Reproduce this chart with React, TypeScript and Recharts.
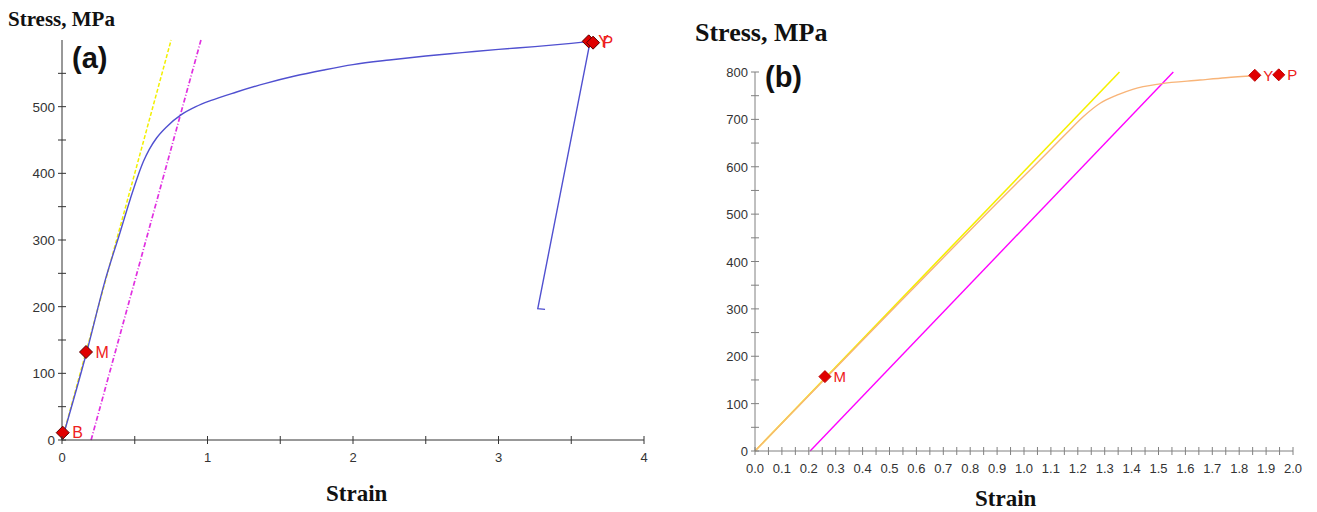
import React from 'react';
import { ComposedChart, Line, Scatter, XAxis, YAxis, LabelList } from 'recharts';

// ---------- Panel (a) ----------
const curveStrainA = [0, 0.17, 0.3, 0.4, 0.47, 0.52, 0.56, 0.6, 0.65, 0.72, 0.82, 0.92, 1.02, 1.2, 1.4, 1.6, 1.8, 2.0, 2.25, 2.5, 2.75, 3.0, 3.25, 3.5, 3.63];
const curveStressA = [0, 132, 242, 312, 362, 395, 418, 436, 453, 470, 488, 500, 509, 522, 535, 546, 555, 563, 570, 576, 581, 586, 590, 595, 598];
const unloadStrainA = [3.63, 3.27, 3.32];
const unloadStressA = [598, 197, 196];
const elasticStrainA = [0, 0.75];
const elasticStressA = [0, 600];
const offsetStrainA = [0.2, 0.955];
const offsetStressA = [0, 600];
const markerLabelsA = ['B', 'M', 'Y', 'P'];
const markerStrainA = [0.005, 0.165, 3.62, 3.65];
const markerStressA = [11, 132, 598, 596];
const yTicksA = [0, 50, 100, 150, 200, 250, 300, 350, 400, 450, 500, 550];
const xTicksA = [0, 0.5, 1, 1.5, 2, 2.5, 3, 3.5, 4];

// ---------- Panel (b) ----------
const curveStrainB = [0, 0.4, 0.6, 0.8, 0.911, 1.035, 1.159, 1.221, 1.283, 1.345, 1.407, 1.506, 1.654, 1.75, 1.858];
const curveStressB = [0, 234, 350, 466, 530, 600, 671, 706, 734, 751, 764, 775, 783, 788, 792];
const elasticStrainB = [0, 1.355];
const elasticStressB = [0, 800];
const offsetStrainB = [0.205, 1.555];
const offsetStressB = [0, 800];
const markerLabelsB = ['M', 'Y', 'P'];
const markerStrainB = [0.26, 1.858, 1.947];
const markerStressB = [157, 793, 794];
const yTicksB = [0, 50, 100, 150, 200, 250, 300, 350, 400, 450, 500, 550, 600, 650, 700, 750, 800];
const xTicksB = Array.from({ length: 41 }, (_, i) => Math.round(i * 5) / 100);

const zip = (xs: number[], ys: number[]) => xs.map((x, i) => ({ x, y: ys[i] }));
const zipLabels = (xs: number[], ys: number[], ls: string[]) => xs.map((x, i) => ({ x, y: ys[i], label: ls[i] }));

const Diamond = (props: any) => {
  const { cx, cy, stroke, r = 6 } = props;
  return (
    <polygon
      points={`${cx},${cy - r} ${cx + r},${cy} ${cx},${cy + r} ${cx - r},${cy}`}
      fill="#e00000"
      stroke={stroke}
      strokeWidth={1}
    />
  );
};

const makeYTick = (color: string, labelEvery: number, fontSize: number) => (props: any) => {
  const { x, y, payload } = props;
  const v = payload.value;
  const show = Math.round(v) % labelEvery === 0;
  return (
    <g>
      <line x1={x - 4} x2={x + 4} y1={y} y2={y} stroke={color} strokeWidth={1} />
      {show && (
        <text x={x - 7} y={y} dy={5} textAnchor="end" fontSize={fontSize} fill="#333" fontFamily="Liberation Sans, Arial, sans-serif">
          {v}
        </text>
      )}
    </g>
  );
};

const makeXTick = (color: string, isLabel: (v: number) => boolean, fmt: (v: number) => string, fontSize: number) => (props: any) => {
  const { x, y, payload } = props;
  const v = payload.value;
  return (
    <g>
      <line x1={x} x2={x} y1={y - 4} y2={y + 4} stroke={color} strokeWidth={1} />
      {isLabel(v) && (
        <text x={x} y={y} dy={22} textAnchor="middle" fontSize={fontSize} fill="#333" fontFamily="Liberation Sans, Arial, sans-serif">
          {fmt(v)}
        </text>
      )}
    </g>
  );
};

const serifTitle: React.CSSProperties = {
  position: 'absolute',
  fontFamily: '"Liberation Serif", "Times New Roman", serif',
  fontWeight: 'bold',
  color: '#111',
  lineHeight: 1,
  whiteSpace: 'nowrap',
};
const panelLabel: React.CSSProperties = {
  position: 'absolute',
  fontFamily: '"Liberation Sans", Arial, sans-serif',
  fontWeight: 'bold',
  color: '#111',
  fontSize: 29,
  lineHeight: 1,
};

export default function App() {
  const axisA = '#333';
  const axisB = '#808080';
  return (
    <div style={{ position: 'absolute', left: 0, top: 0, width: 1317, height: 512, background: '#fff', overflow: 'hidden' }}>
      {/* Panel (a) */}
      <div style={{ position: 'absolute', left: 0, top: 0 }}>
        <ComposedChart width={660} height={512} margin={{ top: 40, right: 16, bottom: 42, left: 0 }}>
          <XAxis
            dataKey="x"
            type="number"
            domain={[0, 4]}
            ticks={xTicksA}
            interval={0}
            height={30}
            stroke={axisA}
            tickLine={false}
            tickSize={0}
            tickMargin={0}
            tick={makeXTick(axisA, (v) => Number.isInteger(v), (v) => String(v), 13)}
          />
          <YAxis
            dataKey="y"
            type="number"
            domain={[0, 600]}
            ticks={yTicksA}
            interval={0}
            width={62}
            stroke={axisA}
            tickLine={false}
            tickSize={0}
            tickMargin={0}
            tick={makeYTick(axisA, 100, 13.5)}
          />
          <Line data={zip(elasticStrainA, elasticStressA)} dataKey="y" type="linear" stroke="#f2f000" strokeWidth={1.5} strokeDasharray="4 2" dot={false} isAnimationActive={false} />
          <Line data={zip(offsetStrainA, offsetStressA)} dataKey="y" type="linear" stroke="#e030e0" strokeWidth={1.7} strokeDasharray="5 2 1 2" dot={false} isAnimationActive={false} />
          <Line data={zip(curveStrainA, curveStressA)} dataKey="y" type="monotone" stroke="#5050d0" strokeWidth={1.4} dot={false} isAnimationActive={false} />
          <Line data={zip(unloadStrainA, unloadStressA)} dataKey="y" type="linear" stroke="#5050d0" strokeWidth={1.4} dot={false} isAnimationActive={false} />
          <Scatter data={zipLabels(markerStrainA, markerStressA, markerLabelsA)} dataKey="y" shape={(p: any) => <Diamond {...p} r={6.5} stroke="#5a0000" />} isAnimationActive={false}>
            <LabelList dataKey="label" position="right" offset={5} fill="#ee2020" fontSize={16} fontFamily="Liberation Sans, Arial, sans-serif" />
          </Scatter>
        </ComposedChart>
        <div style={{ ...serifTitle, left: 8, top: 9, fontSize: 21 }}>Stress, MPa</div>
        <div style={{ ...panelLabel, left: 72, top: 44 }}>(a)</div>
        <div style={{ ...serifTitle, left: 326, top: 482, fontSize: 23 }}>Strain</div>
      </div>

      {/* Panel (b) */}
      <div style={{ position: 'absolute', left: 660, top: 0 }}>
        <ComposedChart width={657} height={512} margin={{ top: 72, right: 24, bottom: 31, left: 0 }}>
          <XAxis
            dataKey="x"
            type="number"
            domain={[0, 2]}
            ticks={xTicksB}
            interval={0}
            height={30}
            stroke={axisB}
            tickLine={false}
            tickSize={0}
            tickMargin={0}
            tick={makeXTick(axisB, (v) => Math.round(v * 100) % 10 === 0, (v) => v.toFixed(1), 13)}
          />
          <YAxis
            dataKey="y"
            type="number"
            domain={[0, 800]}
            ticks={yTicksB}
            interval={0}
            width={95}
            stroke={axisB}
            tickLine={false}
            tickSize={0}
            tickMargin={0}
            tick={makeYTick(axisB, 100, 13)}
          />
          <Line data={zip(elasticStrainB, elasticStressB)} dataKey="y" type="linear" stroke="#f5f000" strokeWidth={1.6} dot={false} isAnimationActive={false} />
          <Line data={zip(offsetStrainB, offsetStressB)} dataKey="y" type="linear" stroke="#ff00ff" strokeWidth={1.4} dot={false} isAnimationActive={false} />
          <Line data={zip(curveStrainB, curveStressB)} dataKey="y" type="monotone" stroke="#f8b478" strokeWidth={1.4} dot={false} isAnimationActive={false} />
          <Scatter data={zipLabels(markerStrainB, markerStressB, markerLabelsB)} dataKey="y" shape={(p: any) => <Diamond {...p} r={6} stroke="#c00000" />} isAnimationActive={false}>
            <LabelList dataKey="label" position="right" offset={4} fill="#ee2020" fontSize={15} fontFamily="Liberation Sans, Arial, sans-serif" />
          </Scatter>
        </ComposedChart>
        <div style={{ ...serifTitle, left: 35, top: 20, fontSize: 26 }}>Stress, MPa</div>
        <div style={{ ...panelLabel, left: 105, top: 63 }}>(b)</div>
        <div style={{ ...serifTitle, left: 315, top: 487, fontSize: 23 }}>Strain</div>
      </div>
    </div>
  );
}
